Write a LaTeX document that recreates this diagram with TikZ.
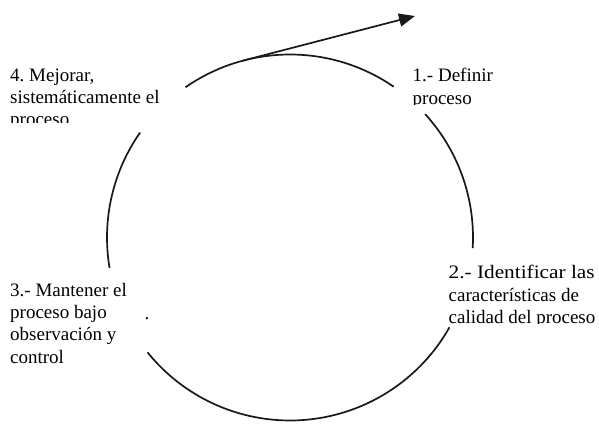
\documentclass[tikz,border=0pt]{standalone}
\usepackage{fontspec}
\setmainfont{Liberation Serif}
\usetikzlibrary{arrows.meta,calc}
\frenchspacing
\begin{document}
\begin{tikzpicture}[x=1pt,y=1pt,
  ring/.style={line width=1.7pt,black!90},
  lbl/.style={anchor=north west,inner sep=0pt,align=left,
    font=\fontsize{19}{22.3}\selectfont}]
\useasboundingbox (0,0) rectangle (599,423);
\coordinate (c) at (290,185.5);
% circle segments
\draw[ring] ($(c)+(124.8:183)$) arc[start angle=124.8,end angle=55.5,radius=183];
\draw[ring] ($(c)+(42.4:183)$) arc[start angle=42.4,end angle=-3.3,radius=183];
\draw[ring] ($(c)+(-29.4:183)$) arc[start angle=-29.4,end angle=-141.1,radius=183];
\draw[ring] ($(c)+(145:183)$) arc[start angle=145,end angle=189.6,radius=183];
% arrow leaving the cycle
\coordinate (as) at ($(c)+(105:183)$);
\coordinate (tip) at (415,407);
\draw[ring,-{Triangle[length=16pt,width=13pt]}] (as) -- (tip);
% labels
\begin{scope}
\clip (0,300) rectangle (200,423);
\node[lbl] (l4) at (10,357.6) {\strut 4. Mejorar,\\sistemáticamente el\\proceso};
\end{scope}
\begin{scope}
\clip (400,318.5) rectangle (599,423);
\node[lbl] (l1) at (412.5,357.1) {\strut 1.- Definir\\proceso};
\end{scope}
\begin{scope}
\clip (440,99.5) rectangle (599,200);
\node[lbl] (l2) at (448.5,160.1) {\strut\scalebox{1.12}[1]{2.- Identificar las}\\características de\\calidad del proceso};
\end{scope}
\node[lbl] (l3) at (10,142.6) {\strut 3.- Mantener el\\proceso bajo\\observación y\\control};
\node[anchor=base,inner sep=0pt,font=\fontsize{19}{22.3}\selectfont] (dot) at (147,103.5) {.};
\end{tikzpicture}
\end{document}
